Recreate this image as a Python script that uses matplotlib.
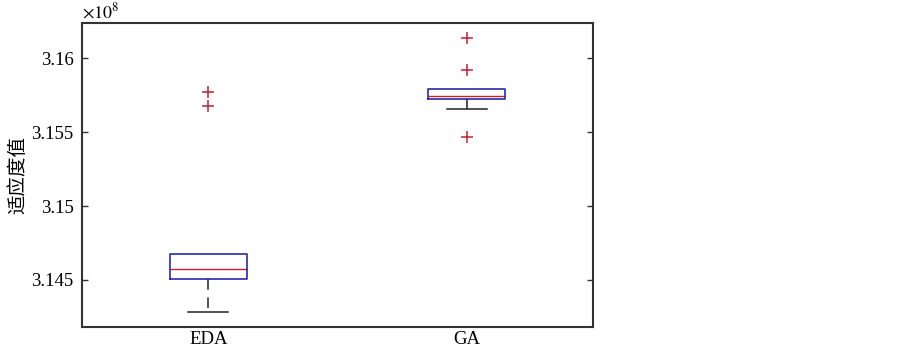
import matplotlib
matplotlib.use("Agg")
import matplotlib.pyplot as plt
from matplotlib.ticker import FuncFormatter

# Box statistics (fitness values)
groups = ["EDA", "GA"]
lower_whisker = [3.14284e8, 3.15655e8]
q1 = [3.14507e8, 3.15721e8]
median = [3.14574e8, 3.15743e8]
q3 = [3.14676e8, 3.15789e8]
upper_whisker = [3.14676e8, 3.15789e8]
outliers = [[3.15770e8, 3.15676e8], [3.16140e8, 3.15919e8, 3.15468e8]]

yticks = [3.145e8, 3.15e8, 3.155e8, 3.16e8]
scale = 1e8

serif = ["Liberation Serif", "DejaVu Serif"]
cjk = ["Noto Sans CJK SC", "DejaVu Sans"]

stats = []
for i, name in enumerate(groups):
    stats.append({
        "label": name,
        "whislo": lower_whisker[i] / scale,
        "q1": q1[i] / scale,
        "med": median[i] / scale,
        "q3": q3[i] / scale,
        "whishi": upper_whisker[i] / scale,
        "fliers": [v / scale for v in outliers[i]],
    })

fig = plt.figure(figsize=(9.03, 3.48), dpi=100)
ax = fig.add_axes([0.0908, 0.0603, 0.5659, 0.8727])

blue = "#2a2aa8"
red = "#c8202e"
parts = ax.bxp(
    stats,
    positions=[1, 2],
    widths=0.3,
    capwidths=0.155,
    boxprops=dict(color=blue, linewidth=1.2),
    medianprops=dict(color=red, linewidth=1.0),
    whiskerprops=dict(color="#222222", linewidth=1.1, linestyle=(0, (7, 5))),
    capprops=dict(color="#222222", linewidth=1.1),
    flierprops=dict(marker="+", markeredgecolor=red, markersize=9,
                    markeredgewidth=1.1, linestyle="none"),
)
# upper whiskers coincide with the box top, so their caps are hidden
for cap in parts["caps"][1::2]:
    cap.set_visible(False)
for b in parts["boxes"]:
    b.set_zorder(3)

ax.set_xlim(0.51, 2.49)
ax.set_ylim(3.14182, 3.16236)
ax.set_yticks([v / scale for v in yticks])
ax.yaxis.set_major_formatter(FuncFormatter(lambda v, p: f"{v:g}"))
ax.set_xticks([1, 2])
ax.set_xticklabels(groups, fontfamily=serif, fontsize=13.5)
for lab in ax.get_yticklabels():
    lab.set_fontfamily(serif)
    lab.set_fontsize(13.5)

ax.tick_params(axis="y", direction="in", length=4, width=1.0, right=True,
               color="#333333", pad=6)
ax.tick_params(axis="x", length=0, pad=3)
for s in ax.spines.values():
    s.set_linewidth(1.5)
    s.set_color("#333333")

ax.set_ylabel("适应度值", fontfamily=cjk, fontsize=14, labelpad=2)
ax.text(0.0, 1.005, r"$\times10^{8}$", transform=ax.transAxes,
        fontfamily=serif, fontsize=13, ha="left", va="bottom",
        math_fontfamily="stix")

fig.savefig("out.png", dpi=100)
